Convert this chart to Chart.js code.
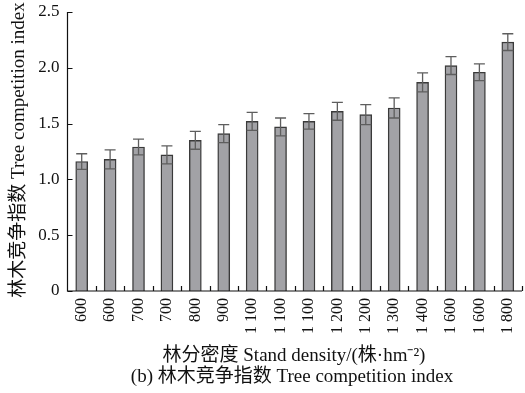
<!DOCTYPE html>
<html>
<head>
<meta charset="utf-8">
<script src="https://cdn.jsdelivr.net/npm/chart.js@4/dist/chart.umd.min.js"></script>
<style>
  html, body { margin: 0; padding: 0; background: #fff; }
  #wrap { width: 525px; height: 393px; }
</style>
</head>
<body>
<div id="wrap"><canvas id="c" width="525" height="393"></canvas></div>
<script>
// Stand density classes (株·hm⁻²)
const densities = ['600', '600', '700', '700', '800', '900', '1 100', '1 100', '1 100',
                   '1 200', '1 200', '1 300', '1 400', '1 600', '1 600', '1 800'];
// Mean tree competition index per stand
const competitionMean = [1.16, 1.18, 1.29, 1.22, 1.35, 1.41, 1.52, 1.47, 1.52,
                         1.61, 1.58, 1.64, 1.87, 2.02, 1.96, 2.23];
// Standard error of the competition index
const competitionErr = [0.07, 0.085, 0.07, 0.08, 0.08, 0.08, 0.08, 0.08, 0.07,
                        0.08, 0.09, 0.09, 0.085, 0.08, 0.075, 0.075];
// Value-axis tick range
const yTicks = { min: 0, max: 2.5, step: 0.5 };

const FONT = '"Liberation Serif", "Noto Sans CJK SC", serif';
const yTitle = '林木竞争指数 Tree competition index';
const xTitle = '林分密度 Stand density/(株·hm⁻²)';
const caption = '(b) 林木竞争指数 Tree competition index';

// Error bars, inward ticks and axis/caption text
const decorations = {
  id: 'decorations',
  afterDatasetsDraw(chart) {
    const { ctx, chartArea: a, scales: { x, y } } = chart;
    ctx.save();
    // error bars
    ctx.strokeStyle = '#5e5e5e';
    ctx.lineWidth = 1.3;
    competitionMean.forEach((m, i) => {
      const cx = x.getPixelForValue(i);
      const top = y.getPixelForValue(m + competitionErr[i]);
      const bot = y.getPixelForValue(m - competitionErr[i]);
      ctx.beginPath();
      ctx.moveTo(cx, top); ctx.lineTo(cx, bot);
      ctx.moveTo(cx - 5.5, top); ctx.lineTo(cx + 5.5, top);
      ctx.moveTo(cx - 5.5, bot); ctx.lineTo(cx + 5.5, bot);
      ctx.stroke();
    });
    // axes lines
    ctx.strokeStyle = '#111';
    ctx.lineWidth = 1.2;
    ctx.beginPath();
    ctx.moveTo(a.left, a.top); ctx.lineTo(a.left, a.bottom); ctx.lineTo(a.right, a.bottom);
    ctx.stroke();
    // y ticks pointing inward
    ctx.beginPath();
    for (let v = yTicks.min; v <= yTicks.max + 1e-9; v += yTicks.step) {
      const py = Math.round(y.getPixelForValue(v)) + 0.5;
      ctx.moveTo(a.left, py); ctx.lineTo(a.left + 5, py);
    }
    // x ticks between categories, pointing upward
    for (let i = 0; i < densities.length; i++) {
      const px = Math.round((x.getPixelForValue(i) + x.getPixelForValue(i + 1)) / 2) + 0.5;
      ctx.moveTo(px, a.bottom); ctx.lineTo(px, a.bottom - 5);
    }
    ctx.stroke();
    // titles
    ctx.fillStyle = '#111';
    ctx.font = '19px ' + FONT;
    ctx.textAlign = 'center';
    ctx.textBaseline = 'middle';
    ctx.save();
    ctx.translate(19, 150);
    ctx.rotate(-Math.PI / 2);
    ctx.fillText(yTitle, 0, 0);
    ctx.restore();
    ctx.fillText(xTitle, 294, 356);
    ctx.fillText(caption, 292, 377);
    ctx.restore();
  }
};

new Chart(document.getElementById('c'), {
  type: 'bar',
  data: {
    labels: densities,
    datasets: [{
      data: competitionMean,
      backgroundColor: '#a2a2a6',
      borderColor: '#3a3a3a',
      borderWidth: 1.4,
      barThickness: 12
    }]
  },
  options: {
    responsive: false,
    animation: false,
    devicePixelRatio: 1,
    layout: { padding: { left: 0, right: 3, top: 12, bottom: 0 } },
    plugins: { legend: { display: false }, tooltip: { enabled: false } },
    scales: {
      x: {
        offset: true,
        grid: { display: false, drawTicks: false },
        border: { display: false },
        ticks: {
          minRotation: 90, maxRotation: 90, padding: 7,
          color: '#111', font: { family: FONT, size: 16 }
        },
        afterFit(s) { s.height = 102; s.paddingLeft = 0; s.paddingRight = 0; }
      },
      y: {
        min: yTicks.min, max: yTicks.max,
        grid: { display: false, drawTicks: false },
        border: { display: false },
        ticks: {
          stepSize: yTicks.step, padding: 8,
          color: '#111', font: { family: FONT, size: 17 },
          callback: v => (v === 0 ? '0' : v.toFixed(1))
        },
        afterFit(s) { s.width = 67.5; s.paddingTop = 0; s.paddingBottom = 0; }
      }
    }
  },
  plugins: [decorations]
});
</script>
</body>
</html>
